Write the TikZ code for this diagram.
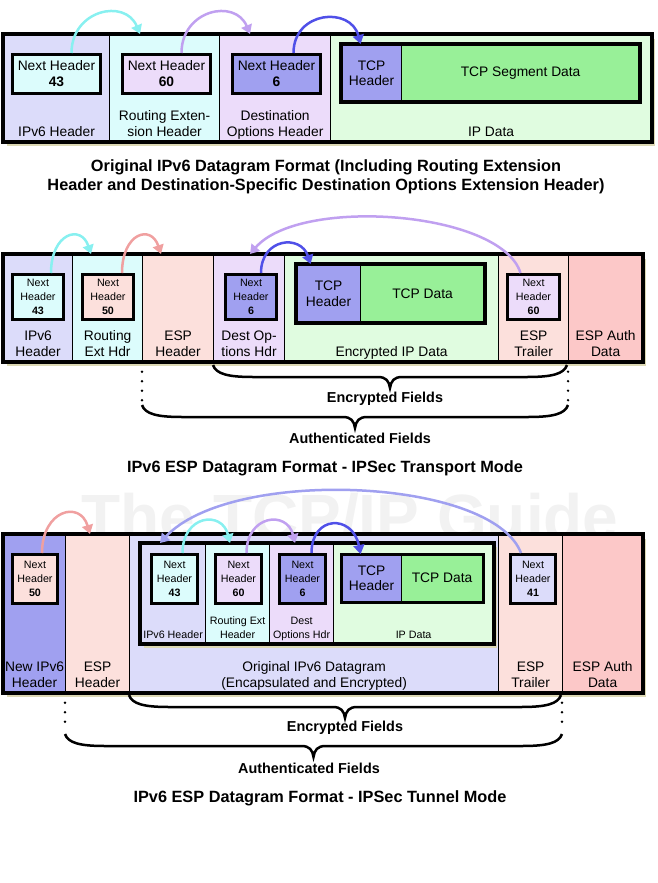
\documentclass[tikz,border=0pt]{standalone}
\usepackage{fontspec}
\setmainfont{Liberation Sans}
\usetikzlibrary{arrows.meta}

\definecolor{lavL}{HTML}{DCDCFA}
\definecolor{cyaL}{HTML}{DCFCFC}
\definecolor{purL}{HTML}{ECDCFA}
\definecolor{grnL}{HTML}{E0FCE0}
\definecolor{pnkL}{HTML}{FCE0DC}
\definecolor{pnkM}{HTML}{FCC8C8}
\definecolor{bluM}{HTML}{A0A0F0}
\definecolor{grnM}{HTML}{98F098}
\definecolor{khaki}{HTML}{DCD8B4}
\definecolor{arCya}{HTML}{88F0F0}
\definecolor{arPur}{HTML}{C0A0F0}
\definecolor{arBlu}{HTML}{5050E8}
\definecolor{arPnk}{HTML}{F0A0A0}
\definecolor{arLav}{HTML}{A0A0F0}

\begin{document}
\begin{tikzpicture}[x=1pt, y=-1pt,
  cell/.style={draw, line width=1.2pt, anchor=north west, inner sep=0pt},
  tcp/.style={cell, align=center, font=\fontsize{13.8}{15.5}\selectfont},
  lab/.style={anchor=south, align=center, inner sep=3pt, text depth=3pt, font=\fontsize{13.8}{15.5}\selectfont},
  slab/.style={lab, font=\fontsize{10.7}{14}\selectfont},
  nhbox/.style={draw, line width=3pt, anchor=north west, align=center, inner sep=0pt, font=\fontsize{13.8}{16}\selectfont},
  snh/.style={nhbox, font=\fontsize{10.7}{14}\selectfont},
  outer/.style={draw, line width=4pt},
  shadowbg/.style={fill=khaki},
  brc/.style={line width=2.5pt},
  dots/.style={line width=2.6pt, line cap=round, dash pattern=on 0pt off 9.5pt},
  ttl/.style={font=\bfseries\fontsize{16.3}{19}\selectfont, align=center},
  fld/.style={font=\bfseries\fontsize{14.4}{17}\selectfont},
  arr/.style={line width=2.5pt, -{Triangle[width=11pt,length=9pt]}}]
  \useasboundingbox (0,0) rectangle (657,883);

  % brace under a group of fields: x0, x1, y
  \def\fieldbrace#1#2#3{%
    \pgfmathsetmacro\xm{(#1+#2)/2}
    \draw[brc] (#1,#3) .. controls (#1+3,#3+9) and (#1+15,#3+12) .. (#1+40,#3+12)
      -- (\xm-12,#3+12) .. controls (\xm-4,#3+12) and (\xm-1,#3+16) .. (\xm,#3+23)
      .. controls (\xm+1,#3+16) and (\xm+4,#3+12) .. (\xm+12,#3+12)
      -- (#2-40,#3+12) .. controls (#2-15,#3+12) and (#2-3,#3+9) .. (#2,#3);}

  % watermark
  \node[text=black!5, font=\bfseries\fontsize{64}{64}\selectfont] (wm) at (350,517) {The TCP/IP Guide};

  %%% original IPv6 datagram
  \fill[shadowbg] (7,39) rectangle (655,146);
  \node[cell, fill=lavL, minimum width=106, minimum height=107] (ip1) at (3,34) {};
  \node[cell, fill=cyaL, minimum width=110, minimum height=107] (rt1) at (109,34) {};
  \node[cell, fill=purL, minimum width=111, minimum height=107] (do1) at (219,34) {};
  \node[cell, fill=grnL, minimum width=321, minimum height=107] (dt1) at (330,34) {};
  \draw[outer] (ip1.north west) rectangle (dt1.south east);
  \node[lab] (ip1t) at (ip1.south) {IPv6 Header};
  \node[lab] (rt1t) at (rt1.south) {Routing Exten-\\sion Header};
  \node[lab] (do1t) at (do1.south) {Destination\\Options Header};
  \node[lab] (dt1t) at (dt1.south) {IP Data};
  \node[nhbox, fill=cyaL, minimum width=88, minimum height=39] (nha1) at (11,53) {Next Header\\\textbf{43}};
  \node[nhbox, fill=purL, minimum width=88, minimum height=39] (nhb1) at (121,53) {Next Header\\\textbf{60}};
  \node[nhbox, fill=bluM, minimum width=88, minimum height=39] (nhc1) at (231,53) {Next Header\\\textbf{6}};
  \node[tcp, fill=bluM, minimum width=60, minimum height=57] (tcph1) at (341,44) {TCP\\Header};
  \node[tcp, fill=grnM, minimum width=238, minimum height=57] (tcpd1) at (401,44) {TCP Segment Data};
  \draw[line width=3.5pt] (tcph1.north west) rectangle (tcpd1.south east);
  \draw[arr, arCya] ([xshift=15pt]nha1.north) .. controls +(0,-43) and +(-15,-36) .. ([xshift=31pt]rt1.north west);
  \draw[arr, arPur] ([xshift=15pt]nhb1.north) .. controls +(0,-43) and +(-15,-36) .. ([xshift=31pt]do1.north west);
  \draw[arr, arBlu] ([xshift=17pt]nhc1.north) .. controls +(0,-42) and +(-10,-38) .. ([xshift=-11pt]tcph1.north);
  \node[ttl] (ttl1) at (326,177) {Original IPv6 Datagram Format (Including Routing Extension\\Header and Destination-Specific Destination Options Extension Header)};

  %%% transport mode
  \fill[shadowbg] (7,259) rectangle (646,366);
  \node[cell, fill=lavL, minimum width=69, minimum height=107] (ip2) at (3,254) {};
  \node[cell, fill=cyaL, minimum width=70, minimum height=107] (rt2) at (72,254) {};
  \node[cell, fill=pnkL, minimum width=71, minimum height=107] (eh2) at (142,254) {};
  \node[cell, fill=purL, minimum width=71, minimum height=107] (do2) at (213,254) {};
  \node[cell, fill=grnL, minimum width=214, minimum height=107] (dt2) at (284,254) {};
  \node[cell, fill=pnkL, minimum width=70, minimum height=107] (et2) at (498,254) {};
  \node[cell, fill=pnkM, minimum width=74, minimum height=107] (ea2) at (568,254) {};
  \draw[outer] (ip2.north west) rectangle (ea2.south east);
  \node[lab] (ip2t) at (ip2.south) {IPv6\\Header};
  \node[lab] (rt2t) at (rt2.south) {Routing\\Ext Hdr};
  \node[lab] (eh2t) at (eh2.south) {ESP\\Header};
  \node[lab] (do2t) at (do2.south) {Dest Op-\\tions Hdr};
  \node[lab] (dt2t) at (dt2.south) {Encrypted IP Data};
  \node[lab] (et2t) at (et2.south) {ESP\\Trailer};
  \node[lab] (ea2t) at (ea2.south) {ESP Auth\\Data};
  \node[snh, fill=cyaL, minimum width=51, minimum height=45] (nha2) at (11,273) {Next\\Header\\\textbf{43}};
  \node[snh, fill=pnkL, minimum width=51, minimum height=45] (nhb2) at (81,273) {Next\\Header\\\textbf{50}};
  \node[snh, fill=bluM, minimum width=51, minimum height=45] (nhc2) at (224,273) {Next\\Header\\\textbf{6}};
  \node[snh, fill=purL, minimum width=52, minimum height=45] (nhd2) at (506,273) {Next\\Header\\\textbf{60}};
  \node[tcp, fill=bluM, minimum width=64, minimum height=58] (tcph2) at (296,264) {TCP\\Header};
  \node[tcp, fill=grnM, minimum width=124, minimum height=58] (tcpd2) at (360,264) {TCP Data};
  \draw[line width=3.5pt] (tcph2.north west) rectangle (tcpd2.south east);
  \draw[arr, arCya] ([xshift=13pt]nha2.north) .. controls +(0,-40) and +(-10,-30) .. ([xshift=19pt]rt2.north west);
  \draw[arr, arPnk] ([xshift=14pt]nhb2.north) .. controls +(0,-40) and +(-10,-30) .. ([xshift=19pt]eh2.north west);
  \draw[arr, arPur] ([xshift=-13pt]nhd2.north) .. controls +(-19,-62) and +(50,-58) .. ([xshift=37pt]do2.north west);
  \draw[arr, arBlu] ([xshift=10pt]nhc2.north) .. controls +(0,-35) and +(-10,-30) .. ([xshift=-18pt]tcph2.north);
  \draw[dots] (eh2.south west) -- ++(0,40);
  \draw[dots] (ea2.south west) -- ++(0,42);
  \fieldbrace{213}{567}{365}
  \fieldbrace{142}{568}{405}
  \node[fld] (enc2) at (385,399) {Encrypted Fields};
  \node[fld] (aut2) at (360,438) {Authenticated Fields};
  \node[ttl] (ttl2) at (325,468) {IPv6 ESP Datagram Format - IPSec Transport Mode};

  %%% tunnel mode
  \fill[shadowbg] (7,539) rectangle (646,697);
  \node[cell, fill=bluM, minimum width=62, minimum height=158] (nw3) at (3,534) {};
  \node[cell, fill=pnkL, minimum width=64, minimum height=158] (eh3) at (65,534) {};
  \node[cell, fill=lavL, minimum width=369, minimum height=158] (og3) at (129,534) {};
  \node[cell, fill=pnkL, minimum width=64, minimum height=158] (et3) at (498,534) {};
  \node[cell, fill=pnkM, minimum width=80, minimum height=158] (ea3) at (562,534) {};
  \draw[outer] (nw3.north west) rectangle (ea3.south east);
  \node[lab] (nw3t) at (nw3.south) {New IPv6\\Header};
  \node[lab] (eh3t) at (eh3.south) {ESP\\Header};
  \node[lab] (og3t) at (og3.south) {Original IPv6 Datagram\\(Encapsulated and Encrypted)};
  \node[lab] (et3t) at (et3.south) {ESP\\Trailer};
  \node[lab] (ea3t) at (ea3.south) {ESP Auth\\Data};
  \node[snh, fill=pnkL, minimum width=45, minimum height=49] (nha3) at (11,553) {Next\\Header\\\textbf{50}};
  \node[snh, fill=lavL, minimum width=45, minimum height=49] (nhe3) at (509,553) {Next\\Header\\\textbf{41}};
  % encapsulated datagram
  \fill[shadowbg] (144,547) rectangle (497,648);
  \node[cell, fill=lavL, minimum width=65, minimum height=100] (ii3) at (140,543) {};
  \node[cell, fill=cyaL, minimum width=64, minimum height=100] (ir3) at (205,543) {};
  \node[cell, fill=purL, minimum width=64, minimum height=100] (id3) at (269,543) {};
  \node[cell, fill=grnL, minimum width=160, minimum height=100] (ip3) at (333,543) {};
  \draw[line width=3.5pt] (ii3.north west) rectangle (ip3.south east);
  \node[slab] (ii3t) at (ii3.south) {IPv6 Header};
  \node[slab] (ir3t) at (ir3.south) {Routing Ext\\Header};
  \node[slab] (id3t) at (id3.south) {Dest\\Options Hdr};
  \node[slab] (ip3t) at (ip3.south) {IP Data};
  \node[snh, fill=cyaL, minimum width=46, minimum height=49] (nhb3) at (150,553) {Next\\Header\\\textbf{43}};
  \node[snh, fill=purL, minimum width=46, minimum height=49] (nhc3) at (214,553) {Next\\Header\\\textbf{60}};
  \node[snh, fill=bluM, minimum width=46, minimum height=49] (nhd3) at (278,553) {Next\\Header\\\textbf{6}};
  \node[tcp, fill=bluM, minimum width=60, minimum height=47] (tcph3) at (341,554) {TCP\\Header};
  \node[tcp, fill=grnM, minimum width=81, minimum height=47] (tcpd3) at (401,554) {TCP Data};
  \draw[line width=3pt] (tcph3.north west) rectangle (tcpd3.south east);
  \draw[arr, arPnk] ([xshift=7pt]nha3.north) .. controls +(0,-43) and +(-10,-34) .. ([xshift=25pt]eh3.north west);
  \draw[arr, arLav] ([xshift=-12pt]nhe3.north) .. controls +(-29,-76) and +(70,-76) .. ([xshift=20pt]ii3.north west);
  \draw[arr, arCya] ([xshift=8pt]nhb3.north) .. controls +(0,-38) and +(-8,-33) .. ([xshift=25pt]ir3.north west);
  \draw[arr, arPur] ([xshift=8pt]nhc3.north) .. controls +(0,-38) and +(-8,-33) .. ([xshift=26pt]id3.north west);
  \draw[arr, arBlu] ([xshift=9pt]nhd3.north) .. controls +(0,-38) and +(-8,-40) .. ([xshift=-11pt]tcph3.north);
  \draw[dots] (eh3.south west) -- ++(0,38);
  \draw[dots] (ea3.south west) -- ++(0,38);
  \fieldbrace{129}{561}{695}
  \fieldbrace{65}{562}{734}
  \node[fld] (enc3) at (345,728) {Encrypted Fields};
  \node[fld] (aut3) at (309,768) {Authenticated Fields};
  \node[ttl] (ttl3) at (320,798) {IPv6 ESP Datagram Format - IPSec Tunnel Mode};
\end{tikzpicture}
\end{document}
